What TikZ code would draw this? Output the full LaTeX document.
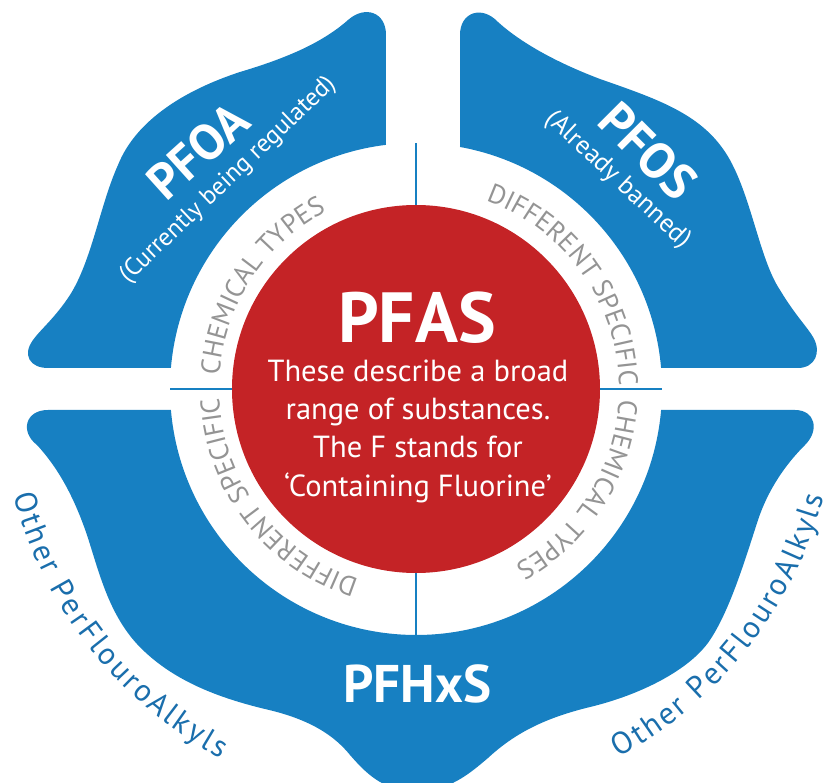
\documentclass[tikz,border=0pt]{standalone}
\usepackage{fontspec}
\setmainfont{PT Sans}
\usetikzlibrary{decorations.text}
\definecolor{lobeblue}{RGB}{23,128,194}
\definecolor{inkblue}{RGB}{26,110,172}
\definecolor{pfasred}{RGB}{196,35,38}
\definecolor{ringgrey}{RGB}{148,148,148}
\newcommand\fsz[1]{\fontsize{#1}{#1}\selectfont}

\begin{document}
\begin{tikzpicture}[x=1pt,y=1pt,
  lobe/.style={fill=lobeblue},
  divider/.style={draw=lobeblue, line width=2pt},
  whitelabel/.style={text=white, inner sep=0pt},
  ringtext/.style={decorate, decoration={text along path, text align=fit to path,
      text color=ringgrey, text={|\fsz{27}|#1}}},
  outertext/.style={decorate, decoration={text along path, text align=fit to path,
      text color=inkblue, text={|\fsz{31}|#1}}},
]
\useasboundingbox (-416,-394) rectangle (419,389);
\clip (-416,-394) rectangle (419,389);

% upper-left lobe (PFOA)
\fill[lobe] (-30,244) -- (-30,354)
  .. controls (-30,377) and (-51,384) .. (-68,369)
  .. controls (-96,344) and (-136,329) .. (-176,317)
  .. controls (-231,299) and (-280,269) .. (-298,224)
  .. controls (-316,184) and (-324,129) .. (-346,94)
  .. controls (-361,71) and (-376,59) .. (-383,49)
  .. controls (-394,34) and (-386,21) .. (-368,21)
  -- (-245.1,21) arc[start angle=175.1, end angle=97.0, radius=246pt] -- cycle;

% upper-right lobe (PFOS)
\fill[lobe] (44,242) -- (44,354)
  .. controls (44,377) and (66,384) .. (82,367)
  .. controls (104,347) and (139,327) .. (184,310)
  .. controls (244,289) and (289,274) .. (314,229)
  .. controls (336,189) and (344,129) .. (364,99)
  .. controls (379,74) and (392,61) .. (397,52)
  .. controls (406,37) and (399,21) .. (382,21)
  -- (245.1,21) arc[start angle=4.9, end angle=79.7, radius=246pt] -- cycle;

% lower lobe (PFHxS)
\fill[lobe] (-245.1,-21) -- (-368,-21)
  .. controls (-391,-21) and (-396,-43) .. (-379,-56)
  .. controls (-356,-81) and (-341,-111) .. (-329,-146)
  .. controls (-316,-186) and (-306,-231) .. (-271,-263)
  .. controls (-241,-291) and (-201,-308) .. (-151,-320)
  .. controls (-116,-328) and (-86,-341) .. (-66,-366)
  .. controls (-46,-389) and (-31,-401) .. (1,-403)
  .. controls (34,-401) and (52,-386) .. (72,-369)
  .. controls (99,-344) and (129,-329) .. (174,-318)
  .. controls (224,-306) and (274,-281) .. (294,-251)
  .. controls (314,-221) and (329,-171) .. (342,-131)
  .. controls (352,-101) and (369,-76) .. (389,-56)
  .. controls (404,-41) and (399,-21) .. (379,-21)
  -- (245.1,-21) arc[start angle=-4.9, end angle=-175.1, radius=246pt] -- cycle;

% central disc
\node[circle, fill=pfasred, minimum size=368pt, inner sep=0pt] (core) at (0,0) {};

% dividers across the white ring
\coordinate (rimN) at (0,246);
\coordinate (rimS) at (0,-246);
\coordinate (rimW) at (-246,0);
\coordinate (rimE) at (246,0);
\draw[divider] (core.north) -- (rimN);
\draw[divider] (core.south) -- (rimS);
\draw[divider] (core.west) -- (rimW);
\draw[divider] (core.east) -- (rimE);

% text in the centre
\node[whitelabel, font=\bfseries\fsz{71}, anchor=base] (pfas) at (1,46) {PFAS};
\node[whitelabel, font=\fsz{30.5}, anchor=base] (line1) at (2,7) {These describe a broad};
\node[whitelabel, font=\fsz{30.5}, anchor=base] (line2) at (2,-31) {range of substances.};
\node[whitelabel, font=\fsz{30.5}, anchor=base] (line3) at (2,-69) {The F stands for};
\node[whitelabel, font=\fsz{30.5}, anchor=base] (line4) at (2,-108) {‘Containing Fluorine’};

% lobe labels
\node[whitelabel, font=\bfseries\fsz{50}, rotate=42] (pfoa) at (-218,238) {PFOA};
\node[whitelabel, font=\fsz{25}, rotate=43.6] (pfoanote) at (-188,209) {(Currently being regulated)};
\node[whitelabel, font=\bfseries\fsz{50}, rotate=-45] (pfos) at (232,238) {PFOS};
\node[whitelabel, font=\fsz{26}, rotate=-43] (pfosnote) at (202,209) {(Already banned)};
\node[whitelabel, font=\bfseries\fsz{53}, anchor=base] (pfhxs) at (1.5,-313) {PFHxS};

% curved captions
\begin{scope}[shift={(3,0)}]
  \path[ringtext={DIFFERENT SPECIFIC}] (70.5:200pt) arc[start angle=70.5, end angle=2, radius=200pt];
  \path[ringtext={CHEMICAL TYPES}] (-3:200pt) arc[start angle=-3, end angle=-61, radius=200pt];
  \path[ringtext={DIFFERENT SPECIFIC}] (-107.5:200pt) arc[start angle=-107.5, end angle=-177.5, radius=200pt];
  \path[ringtext={CHEMICAL TYPES}] (176:200pt) arc[start angle=176, end angle=117.5, radius=200pt];
  \path[outertext={Other PerFlouroAlkyls}] (194.7:419pt) arc[start angle=194.7, end angle=241.8, radius=419pt];
  \path[outertext={Other PerFlouroAlkyls}] (298.5:419pt) arc[start angle=298.5, end angle=345, radius=419pt];
\end{scope}
\end{tikzpicture}
\end{document}
